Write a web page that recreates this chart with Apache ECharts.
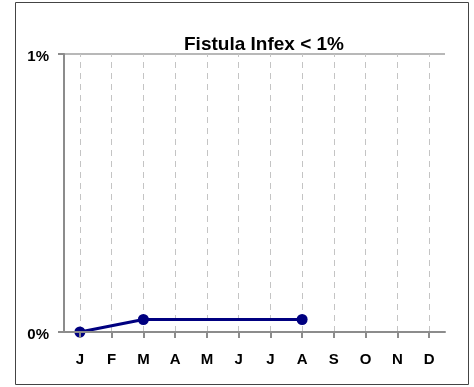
<!DOCTYPE html>
<html>
<head>
<meta charset="utf-8">
<script src="https://cdn.jsdelivr.net/npm/echarts@6/dist/echarts.min.js"></script>
<style>
  html, body { margin: 0; padding: 0; background: #fff; }
  #chart { width: 474px; height: 387px; }
</style>
</head>
<body>
<div id="chart"></div>
<script>
// Monthly fistula infection rate (%), target below 1%
const months = ['J', 'F', 'M', 'A', 'M', 'J', 'J', 'A', 'S', 'O', 'N', 'D'];
const infectionRate = [0, null, 0.045, null, null, null, null, 0.045, null, null, null, null];
const yTicks = [0, 1];
const chartTitle = 'Fistula Infex < 1%';

const font = 'Arial, "Liberation Sans", sans-serif';
const axisGray = '#8c8c8c';
const navy = '#000080';

const chart = echarts.init(document.getElementById('chart'), null, { renderer: 'canvas' });

chart.setOption({
  animation: false,
  graphic: [{
    type: 'rect',
    shape: { x: 15.5, y: 2.5, width: 453, height: 382 },
    style: { fill: 'none', stroke: '#444', lineWidth: 1 },
    silent: true
  }],
  title: {
    text: chartTitle,
    left: 259,
    textAlign: 'center',
    top: 30,
    textStyle: { fontFamily: font, fontSize: 19, fontWeight: 'bold', color: '#000' }
  },
  grid: { left: 64, right: 29, top: 54, bottom: 55 },
  xAxis: {
    type: 'category',
    data: months,
    boundaryGap: true,
    z: 3,
    axisLine: { lineStyle: { color: axisGray, width: 2 } },
    axisTick: { show: true, alignWithLabel: true, length: 6, lineStyle: { color: axisGray, width: 2 } },
    axisLabel: { margin: 20, fontFamily: font, fontSize: 15, fontWeight: 'bold', color: '#000' },
    splitLine: { show: false }
  },
  yAxis: {
    type: 'value',
    min: yTicks[0],
    max: yTicks[yTicks.length - 1],
    interval: 1,
    axisLine: { show: true, lineStyle: { color: axisGray, width: 2 } },
    axisTick: { show: true, length: 6, lineStyle: { color: axisGray, width: 2 } },
    axisLabel: {
      margin: 15,
      formatter: v => '{v|' + v + '%}',
      rich: {
        v: { fontFamily: font, fontSize: 15, fontWeight: 'bold', color: '#000', padding: [5, 0, 0, 0] }
      }
    },
    splitLine: { show: true, lineStyle: { color: '#a0a0a0', width: 1.5 } }
  },
  series: [{
    // dashed vertical guides at each month, kept beneath the data line
    type: 'line',
    data: [],
    z: 1,
    silent: true,
    markLine: {
      z: 1,
      silent: true,
      symbol: ['none', 'none'],
      label: { show: false },
      lineStyle: { color: '#c4c4c4', width: 1, type: [6, 5] },
      data: months.map((m, i) => ({ xAxis: i }))
    }
  }, {
    type: 'line',
    data: infectionRate,
    connectNulls: true,
    symbol: 'circle',
    symbolSize: 11,
    lineStyle: { color: navy, width: 3 },
    itemStyle: { color: navy },
    z: 2
  }]
});
</script>
</body>
</html>
